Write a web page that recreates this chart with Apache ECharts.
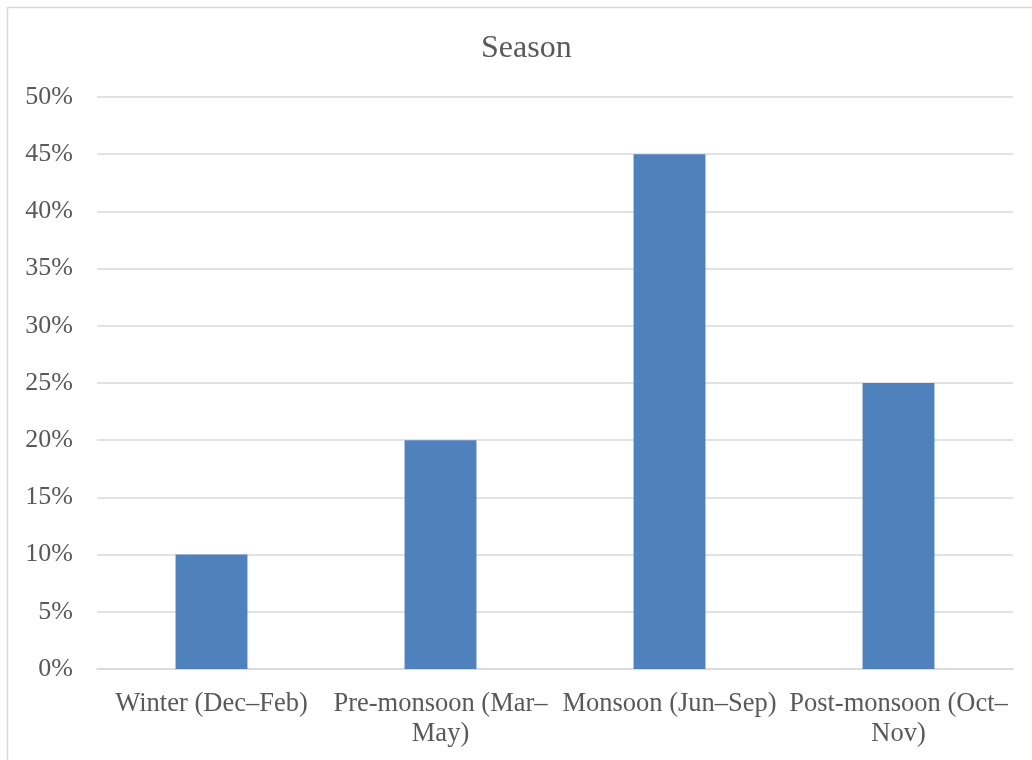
<!DOCTYPE html>
<html>
<head>
<meta charset="utf-8">
<script src="https://cdn.jsdelivr.net/npm/echarts@6/dist/echarts.min.js"></script>
<style>
html, body { margin: 0; padding: 0; background: #fff; }
#chart { width: 1032px; height: 760px; }
</style>
</head>
<body>
<div id="chart"></div>
<script>
// Share of annual total by season
const categories = ['Winter (Dec–Feb)', 'Pre-monsoon (Mar–May)', 'Monsoon (Jun–Sep)', 'Post-monsoon (Oct–Nov)'];
const categoryLabels = ['Winter (Dec–Feb)', 'Pre-monsoon (Mar–\nMay)', 'Monsoon (Jun–Sep)', 'Post-monsoon (Oct–\nNov)'];
const values = [10, 20, 45, 25];
const yTicks = [0, 5, 10, 15, 20, 25, 30, 35, 40, 45, 50];

const font = '"Liberation Serif", "Times New Roman", serif';
const chart = echarts.init(document.getElementById('chart'));
chart.setOption({
  backgroundColor: '#ffffff',
  animation: false,
  graphic: [{
    type: 'rect',
    shape: { x: 7.5, y: 7.5, width: 1040, height: 770 },
    style: { fill: 'none', stroke: '#d9d9d9', lineWidth: 1.5 },
    silent: true
  }],
  title: {
    text: 'Season',
    left: 476,
    top: 28,
    textStyle: { fontFamily: font, fontSize: 32, fontWeight: 'normal', color: '#595959' }
  },
  grid: { left: 97, right: 19, top: 97, bottom: 91, containLabel: false },
  xAxis: {
    type: 'category',
    data: categories,
    axisLine: { show: true, lineStyle: { color: '#d9d9d9', width: 1.5 } },
    axisTick: { show: false },
    axisLabel: {
      interval: 0,
      margin: 20,
      fontFamily: font,
      fontSize: 26.5,
      lineHeight: 30,
      color: '#595959',
      formatter: (v, i) => categoryLabels[i]
    }
  },
  yAxis: {
    type: 'value',
    min: yTicks[0],
    max: yTicks[yTicks.length - 1],
    interval: 5,
    axisLine: { show: false },
    axisTick: { show: false },
    splitLine: { lineStyle: { color: '#d9d9d9', width: 1.5 } },
    axisLabel: {
      margin: 24,
      fontFamily: font,
      fontSize: 26,
      color: '#595959',
      padding: [4, 0, 0, 0],
      formatter: v => v + '%'
    }
  },
  series: [{
    type: 'bar',
    data: values,
    barWidth: '31.4%',
    itemStyle: { color: '#4f81bd' }
  }]
});
</script>
</body>
</html>
